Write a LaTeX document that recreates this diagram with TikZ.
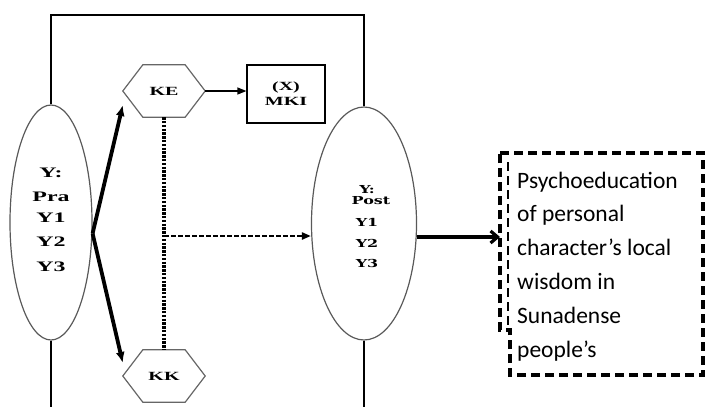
\documentclass[tikz,border=0pt]{standalone}
\usepackage{fontspec}
\usepackage{graphicx}
\setmainfont{Liberation Serif}
\newfontfamily\calib{Carlito}
\newfontfamily\dvs{DejaVu Serif}
\usetikzlibrary{shapes.geometric,arrows.meta}
\newcommand\wideL[1]{\scalebox{1.65}[1]{\fontsize{14.5}{15}\selectfont\bfseries #1}}
\newcommand\wideH[1]{\scalebox{1.6}[1]{\fontsize{12.5}{13}\selectfont\bfseries #1}}
\newcommand\wideR[1]{\scalebox{1.45}[1]{\fontsize{11}{11}\selectfont\dvs\bfseries #1}}
\begin{document}
\begin{tikzpicture}[x=1pt,y=-1pt,
 oval/.style={ellipse, draw=black!65, line width=1.2pt, inner sep=0},
 hexbox/.style={inner sep=0, minimum width=82pt, minimum height=52pt},
 hexline/.style={draw=black!60, line width=1.2pt},
 frame/.style={draw=black, line width=1.3pt},
 lbl/.style={inner sep=0, anchor=center},
 thickarrow/.style={line width=3.8pt, -{Latex[length=11pt,width=9pt]}},
 thinarrow/.style={line width=1.2pt, -{Triangle[length=9pt,width=7pt]}},
 dotline/.style={line width=4pt, dash pattern=on 2.4pt off 1.4pt},
 dasharrow/.style={line width=2.6pt, dash pattern=on 4.5pt off 2.5pt, -{Triangle[length=9pt,width=7pt]}},
 outarrow/.style={line width=3.2pt, -{Straight Barb[length=7pt,width=12pt]}},
 dashbox/.style={line width=3.4pt, dash pattern=on 9pt off 5pt},
 bodytext/.style={inner sep=0, anchor=base west, font=\calib\fontsize{23.5}{28}\selectfont}
]
\useasboundingbox (0,0) rectangle (709,407);
\coordinate (tl) at (51,15);
\coordinate (bot) at (0,407);

% ellipses
\node[oval, minimum width=82pt, minimum height=235pt] (pre) at (51,222.5) {};
\node[oval, minimum width=105pt, minimum height=233pt] (post) at (364,223.5) {};

\node[lbl] (pre1) at (51,173) {\wideL{Y:}};
\node[lbl] (pre2) at (51,197) {\wideL{Pra}};
\node[lbl] (pre3) at (51,218) {\wideL{Y1}};
\node[lbl] (pre4) at (51,242) {\wideL{Y2}};
\node[lbl] (pre5) at (51,267) {\wideL{Y3}};

\node[lbl] (post1) at (367,190) {\wideR{Y:}};
\node[lbl] (post2) at (371,201) {\wideR{Post}};
\node[lbl] (post3) at (367,222) {\wideR{Y1}};
\node[lbl] (post4) at (367,243) {\wideR{Y2}};
\node[lbl] (post5) at (367,263) {\wideR{Y3}};

% hexagons
\node[hexbox] (ke) at (164,91) {\wideH{KE}};
\draw[hexline] (ke.west) -- ([xshift=20pt]ke.north west) -- ([xshift=-20pt]ke.north east) -- (ke.east) -- ([xshift=-20pt]ke.south east) -- ([xshift=20pt]ke.south west) -- cycle;
\node[hexbox] (kk) at (164,376) {\wideH{KK}};
\draw[hexline] (kk.west) -- ([xshift=20pt]kk.north west) -- ([xshift=-20pt]kk.north east) -- (kk.east) -- ([xshift=-20pt]kk.south east) -- ([xshift=20pt]kk.south west) -- cycle;

% MKI box
\node[draw, line width=1.2pt, minimum width=78pt, minimum height=58pt, inner sep=0, align=center, font=\fontsize{12}{15}\selectfont] (mki) at (286,94) {\wideH{(X)}\\\wideH{MKI}};

% frame lines
\draw[frame] (pre.north) -- (pre.north |- tl) -- (post.north |- tl) -- (post.north);
\draw[frame] (pre.south) -- (pre.south |- bot);
\draw[frame] (post.south) -- (post.south |- bot);

% arrows
\draw[thickarrow] ([yshift=-11pt]pre.east) -- ([yshift=-14pt]ke.west);
\draw[thickarrow] ([yshift=-11pt]pre.east) -- ([yshift=13pt]kk.west);
\draw[thinarrow] (ke.east) -- (ke.east -| mki.west);
\draw[dotline] (ke.south) -- (kk.north);
\coordinate (mid) at (ke.south |- 0,236);
\draw[dasharrow] (mid) -- (mid -| post.west);
\coordinate (boxin) at (500,237);
\draw[outarrow] (boxin -| post.east) -- (boxin);

% dashed text box
\draw[dashbox] (500,153) -- (703,153) -- (703,375) -- (510,375) -- (510,330) -- (500,330) -- cycle;
\draw[line width=2pt, dash pattern=on 9pt off 5pt] (508,162) -- (508,325);
\node[bodytext] (t1) at (517,188) {Psychoeducation};
\node[bodytext] (t2) at (517,221.8) {of personal};
\node[bodytext] (t3) at (517,255.6) {character’s local};
\node[bodytext] (t4) at (517,289.4) {wisdom in};
\node[bodytext] (t5) at (517,323.2) {Sunadense};
\node[bodytext] (t6) at (517,357) {people’s};
\end{tikzpicture}
\end{document}
